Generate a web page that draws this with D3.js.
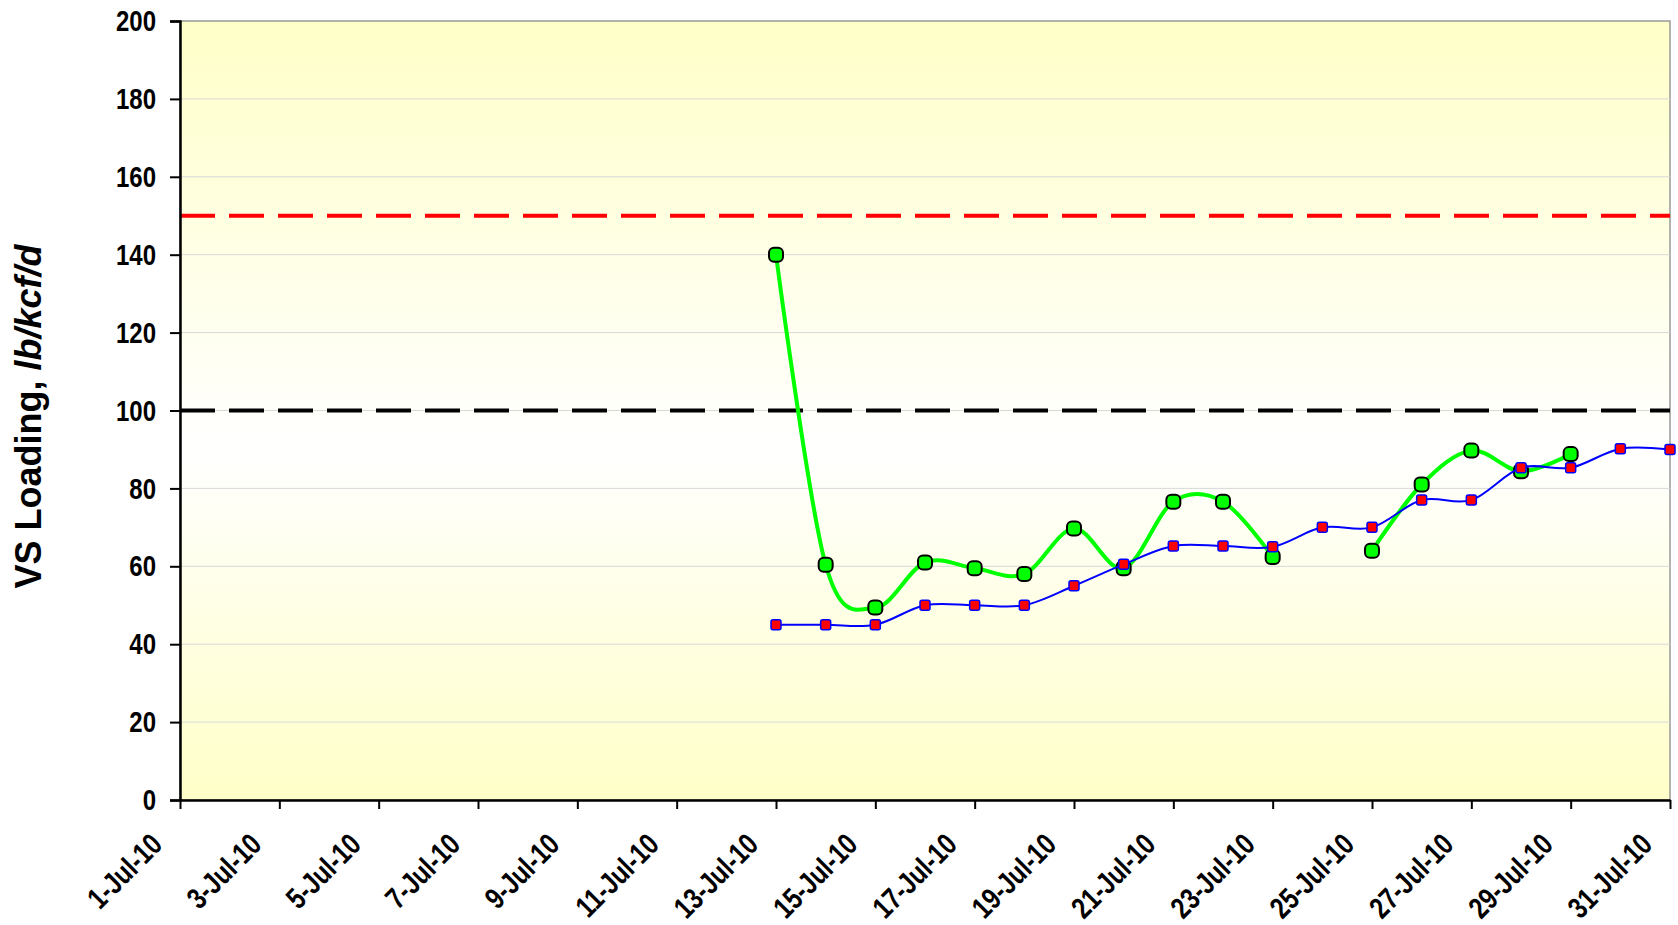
<!DOCTYPE html>
<html>
<head>
<meta charset="utf-8">
<script src="https://cdn.jsdelivr.net/npm/d3@7"></script>
<style>
  body { margin: 0; background: #fff; }
  .tick text { font-family: "Liberation Sans", Arial, sans-serif; font-weight: bold; font-size: 30px; fill: #000; }
</style>
</head>
<body>
<div id="chart"></div>
<script>
const width = 1678;
const height = 925;
const margin = { top: 21, right: 8, bottom: 125, left: 180 };

// July 2010 day numbers for the two series
const dayOfMonth = [13, 14, 15, 16, 17, 18, 19, 20, 21, 22, 23, 24, 25, 26, 27, 28, 29, 30, 31];
// daily VS loading (green)
const vsLoading = [140, 60.4, 49.4, 61, 59.5, 58, 69.7, 59.5, 76.6, 76.6, 62.4, null, 64, 81, 89.7, 84.4, 88.8, null, null];
// running average (blue / red)
const avgLoading = [45, 45, 45, 50, 50, 50, 55, 60.5, 65.2, 65.2, 65, 70, 70, 77, 77, 85.3, 85.3, 90.2, 90];
// design limits
const limitHigh = 150;
const limitLow = 100;
const yTicks = [0, 20, 40, 60, 80, 100, 120, 140, 160, 180, 200];

const date = d => new Date(2010, 6, d);
const xTickDates = d3.range(1, 32, 2).map(date);
const narrow = 0.8; // squeeze to mimic a narrow face

const svg = d3.select("#chart")
  .append("svg")
  .attr("width", width)
  .attr("height", height);

const x = d3.scaleTime()
  .domain([date(1), date(31)])
  .range([margin.left, width - margin.right]);

const y = d3.scaleLinear()
  .domain([0, 200])
  .range([height - margin.bottom, margin.top]);

// plot background gradient
const grad = svg.append("defs").append("linearGradient")
  .attr("id", "bg")
  .attr("x1", 0).attr("y1", 0).attr("x2", 0).attr("y2", 1);
grad.append("stop").attr("offset", "0%").attr("stop-color", "#ffffc8");
grad.append("stop").attr("offset", "55%").attr("stop-color", "#ffffff");
grad.append("stop").attr("offset", "100%").attr("stop-color", "#ffffc8");

svg.append("rect")
  .attr("x", x.range()[0])
  .attr("y", y(200))
  .attr("width", x.range()[1] - x.range()[0])
  .attr("height", y(0) - y(200))
  .attr("fill", "url(#bg)")
  .attr("stroke", "#999")
  .attr("stroke-width", 1.5);

// gridlines
svg.append("g")
  .selectAll("line")
  .data(yTicks.slice(1, -1))
  .join("line")
  .attr("x1", x.range()[0])
  .attr("x2", x.range()[1])
  .attr("y1", d => y(d))
  .attr("y2", d => y(d))
  .attr("stroke", "#d8d8d8")
  .attr("stroke-width", 1);

// limit lines
svg.append("line")
  .attr("x1", x.range()[0]).attr("x2", x.range()[1])
  .attr("y1", y(limitHigh)).attr("y2", y(limitHigh))
  .attr("stroke", "#ff0000")
  .attr("stroke-width", 4)
  .attr("stroke-dasharray", "35,14");

svg.append("line")
  .attr("x1", x.range()[0]).attr("x2", x.range()[1])
  .attr("y1", y(limitLow)).attr("y2", y(limitLow))
  .attr("stroke", "#000")
  .attr("stroke-width", 4)
  .attr("stroke-dasharray", "35,14");

// axes
const yAxis = svg.append("g")
  .attr("transform", `translate(${x.range()[0]},0)`)
  .call(d3.axisLeft(y).tickValues(yTicks).tickSize(10));
yAxis.select(".domain").attr("stroke-width", 2.5);
yAxis.selectAll(".tick line").attr("stroke-width", 2);
yAxis.selectAll(".tick text")
  .attr("x", -24 / narrow)
  .attr("transform", `scale(${narrow},1)`);

const xAxis = svg.append("g")
  .attr("transform", `translate(0,${y(0)})`)
  .call(d3.axisBottom(x).tickValues(xTickDates).tickFormat(d3.timeFormat("%-d-%b-%y")).tickSize(9).tickSizeOuter(0));
xAxis.select(".domain").attr("stroke-width", 2.5);
xAxis.selectAll(".tick line").attr("stroke-width", 2);
xAxis.selectAll(".tick text")
  .attr("text-anchor", "end")
  .attr("y", 0)
  .attr("dy", "0.35em")
  .attr("transform", `translate(-24,39) rotate(-45) scale(${narrow},1)`);

// y axis title
svg.append("text")
  .attr("transform", `translate(28,${(y(0) + y(200)) / 2 + 6}) rotate(-90)`)
  .attr("text-anchor", "middle")
  .attr("dominant-baseline", "central")
  .style("font-family", "'Liberation Sans', Arial, sans-serif")
  .style("font-weight", "bold")
  .style("font-size", "36px")
  .call(t => {
    t.append("tspan").text("VS Loading, ");
    t.append("tspan").style("font-style", "italic").text("lb/kcf/d");
  });

const curve = d3.curveCatmullRom.alpha(0);

// green series
const green = dayOfMonth.map((d, i) => ({ d, v: vsLoading[i] }));
svg.append("path")
  .datum(green)
  .attr("fill", "none")
  .attr("stroke", "#00ff00")
  .attr("stroke-width", 4)
  .attr("d", d3.line().defined(p => p.v != null).curve(curve).x(p => x(date(p.d))).y(p => y(p.v)));

svg.append("g")
  .selectAll("rect")
  .data(green.filter(p => p.v != null))
  .join("rect")
  .attr("x", p => x(date(p.d)) - 7)
  .attr("y", p => y(p.v) - 7)
  .attr("width", 14)
  .attr("height", 14)
  .attr("rx", 5)
  .attr("fill", "#00ff00")
  .attr("stroke", "#000")
  .attr("stroke-width", 2);

// blue series
const blue = dayOfMonth.map((d, i) => ({ d, v: avgLoading[i] }));
svg.append("path")
  .datum(blue)
  .attr("fill", "none")
  .attr("stroke", "#0000ff")
  .attr("stroke-width", 2)
  .attr("d", d3.line().curve(curve).x(p => x(date(p.d))).y(p => y(p.v)));

svg.append("g")
  .selectAll("rect")
  .data(blue)
  .join("rect")
  .attr("x", p => x(date(p.d)) - 5)
  .attr("y", p => y(p.v) - 5)
  .attr("width", 10)
  .attr("height", 10)
  .attr("rx", 2)
  .attr("fill", "#ff0000")
  .attr("stroke", "#0000ff")
  .attr("stroke-width", 1.5);
</script>
</body>
</html>
